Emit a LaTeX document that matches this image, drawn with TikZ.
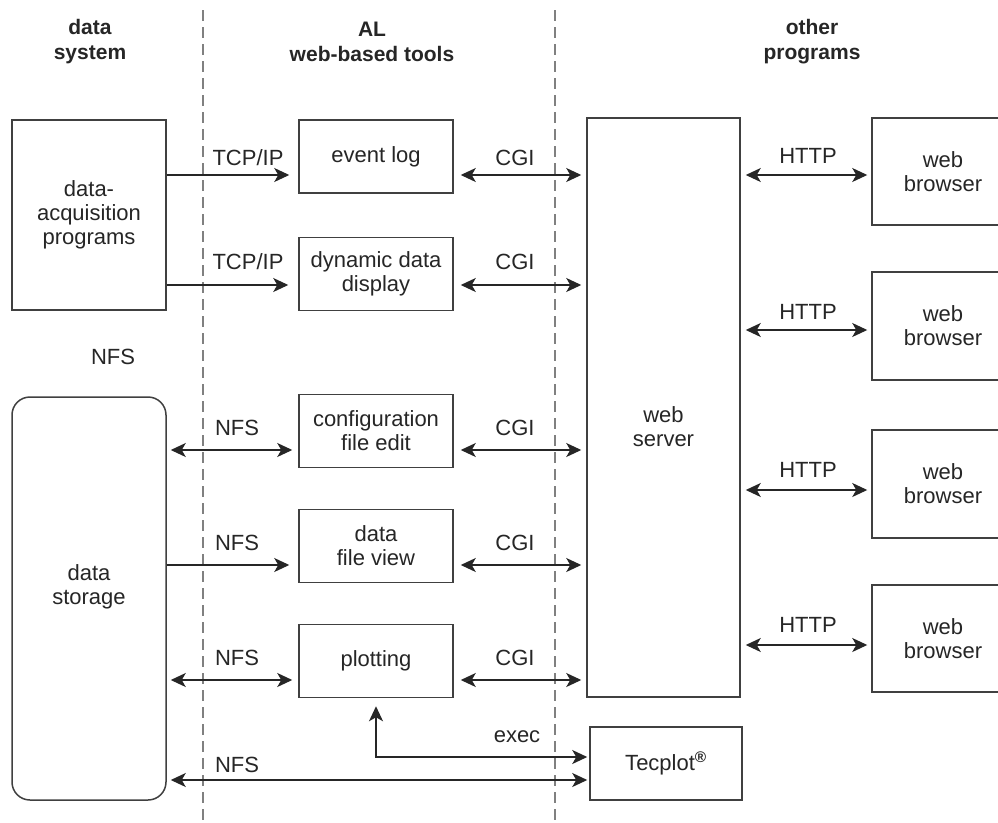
\documentclass[tikz,border=0pt]{standalone}
\usepackage{fontspec}
\setmainfont{Liberation Sans}
\usetikzlibrary{arrows.meta}
\begin{document}
\begin{tikzpicture}[x=1pt,y=-1pt,
  every node/.style={font=\fontsize{22}{24}\selectfont, text=black!85, align=center},
  box/.style={draw=black!75, line width=1.5pt, inner sep=0pt},
  lbl/.style={inner sep=0pt},
  hdr/.style={inner sep=0pt, font=\fontsize{21}{25}\selectfont\bfseries},
  arr/.style={-{Stealth[length=15pt,width=14pt,inset=4pt]}, line width=1.5pt, draw=black!85},
  darr/.style={{Stealth[length=15pt,width=14pt,inset=4pt]}-{Stealth[length=15pt,width=14pt,inset=4pt]}, line width=1.5pt, draw=black!85},
  sep/.style={draw=black!50, line width=2.4pt, dash pattern=on 11pt off 6pt}
]
\useasboundingbox (0,0) rectangle (998,822);
\clip (0,0) rectangle (998,822);
\fill[white] (0,0) rectangle (998,822);

% separators
\coordinate (s1a) at (203,10); \coordinate (s1b) at (203,822);
\coordinate (s2a) at (555,10); \coordinate (s2b) at (555,822);
\draw[sep] (s1a) -- (s1b);
\draw[sep] (s2a) -- (s2b);

% headers
\node[hdr] (h1) at (90,42) {data\\system};
\node[hdr] (h2) at (372,42) {AL\\web-based tools};
\node[hdr] (h3) at (812,42) {other\\programs};

% left column
\node[box, minimum width=154pt, minimum height=190pt] (acq) at (89,215) {data-\\acquisition\\programs};
\node[lbl] (nfs0) at (113,357) {NFS};
\node[box, rounded corners=18pt, minimum width=154pt, minimum height=403pt] (store) at (89,598.5) {};
\node[lbl] (storet) at (89,587) {data\\storage};

% middle column
\node[box, minimum width=154pt, minimum height=73pt] (ev) at (376,156.5) {event log};
\node[box, minimum width=154pt, minimum height=73pt] (dyn) at (376,274) {dynamic data\\display};
\node[box, minimum width=154pt, minimum height=73pt] (cfg) at (376,431) {configuration\\file edit};
\node[box, minimum width=154pt, minimum height=73pt] (view) at (376,546) {data\\file view};
\node[box, minimum width=154pt, minimum height=73pt] (plot) at (376,661) {plotting};

% right
\node[box, minimum width=153pt, minimum height=579pt] (ws) at (663.5,407.5) {};
\node[lbl] (wst) at (663.5,427) {web\\server};
\node[box, minimum width=152pt, minimum height=73pt] (tec) at (666,763.5) {Tecplot\textsuperscript{\textbf{®}}};

\node[box, minimum width=142pt, minimum height=107pt] (br1) at (943,171.5) {web\\browser};
\node[box, minimum width=142pt, minimum height=108pt] (br2) at (943,326) {web\\browser};
\node[box, minimum width=142pt, minimum height=108pt] (br3) at (943,484) {web\\browser};
\node[box, minimum width=142pt, minimum height=107pt] (br4) at (943,638.5) {web\\browser};

% arrow levels
\coordinate (y1) at (0,175);
\coordinate (y2) at (0,285);
\coordinate (y3) at (0,450);
\coordinate (y4) at (0,565);
\coordinate (y5) at (0,680);
\coordinate (y6) at (0,757);
\coordinate (y7) at (0,780);
\coordinate (h1y) at (0,175);
\coordinate (h2y) at (0,330);
\coordinate (h3y) at (0,490);
\coordinate (h4y) at (0,645);

% TCP/IP
\draw[arr, shorten >=9pt] (acq.east |- y1) -- (ev.west |- y1);
\draw[arr, shorten >=10pt] (acq.east |- y2) -- (dyn.west |- y2);
\node[lbl] (t1) at (248,158) {TCP/IP};
\node[lbl] (t2) at (248,262) {TCP/IP};

% NFS
\draw[darr, shorten <=4pt, shorten >=6pt] (store.east |- y3) -- (cfg.west |- y3);
\draw[arr, shorten >=9pt] (store.east |- y4) -- (view.west |- y4);
\draw[darr, shorten <=4pt, shorten >=6pt] (store.east |- y5) -- (plot.west |- y5);
\draw[darr, shorten <=4pt, shorten >=2pt] (store.east |- y7) -- (tec.west |- y7);
\node[lbl] (n1) at (237,428) {NFS};
\node[lbl] (n2) at (237,543) {NFS};
\node[lbl] (n3) at (237,658) {NFS};
\node[lbl] (n4) at (237,765) {NFS};

% exec
\draw[darr, shorten <=8pt, shorten >=2pt] (plot.south) |- (tec.west |- y6);
\node[lbl] (ex) at (517,737) {exec};

% CGI
\draw[darr, shorten <=7pt, shorten >=5pt] (ev.east |- y1) -- (ws.west |- y1);
\draw[darr, shorten <=7pt, shorten >=5pt] (dyn.east |- y2) -- (ws.west |- y2);
\draw[darr, shorten <=7pt, shorten >=5pt] (cfg.east |- y3) -- (ws.west |- y3);
\draw[darr, shorten <=7pt, shorten >=5pt] (view.east |- y4) -- (ws.west |- y4);
\draw[darr, shorten <=7pt, shorten >=5pt] (plot.east |- y5) -- (ws.west |- y5);
\node[lbl] (c1) at (515,158) {CGI};
\node[lbl] (c2) at (515,262) {CGI};
\node[lbl] (c3) at (515,428) {CGI};
\node[lbl] (c4) at (515,543) {CGI};
\node[lbl] (c5) at (515,658) {CGI};

% HTTP
\draw[darr, shorten <=5pt, shorten >=4pt] (ws.east |- h1y) -- (br1.west |- h1y);
\draw[darr, shorten <=5pt, shorten >=4pt] (ws.east |- h2y) -- (br2.west |- h2y);
\draw[darr, shorten <=5pt, shorten >=4pt] (ws.east |- h3y) -- (br3.west |- h3y);
\draw[darr, shorten <=5pt, shorten >=4pt] (ws.east |- h4y) -- (br4.west |- h4y);
\node[lbl] (p1) at (808,156) {HTTP};
\node[lbl] (p2) at (808,312) {HTTP};
\node[lbl] (p3) at (808,470) {HTTP};
\node[lbl] (p4) at (808,625) {HTTP};
\end{tikzpicture}
\end{document}
